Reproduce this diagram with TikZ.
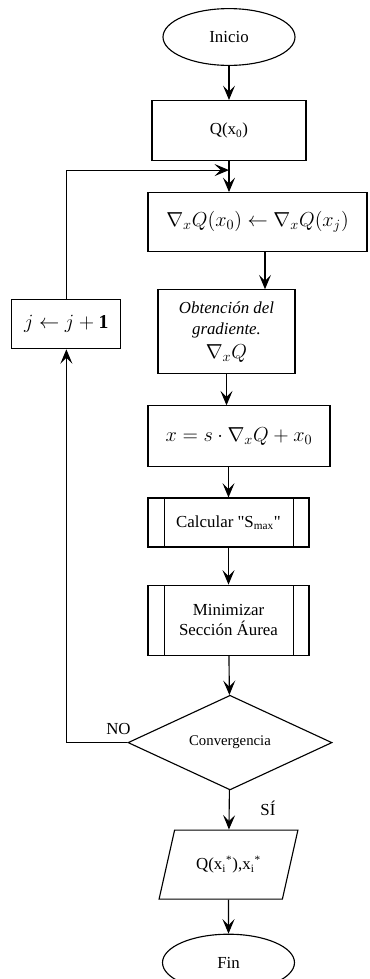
\documentclass[tikz,border=0pt]{standalone}
\usepackage{fontspec}
\setmainfont{Liberation Serif}[Ligatures=TeXOff]
\usepackage{amsmath}
\usetikzlibrary{shapes.geometric,arrows.meta,positioning}

\begin{document}
\begin{tikzpicture}[
    terminal/.style={ellipse, draw, line width=0.8pt, minimum width=3.3cm, minimum height=1.42cm, font=\fontsize{12}{14}\selectfont},
    block/.style={rectangle, draw, line width=0.8pt, align=center, minimum height=1.5cm, font=\fontsize{12}{14}\selectfont},
    mathblock/.style={block, font=\fontsize{14}{17}\selectfont},
    subproc/.style={block, path picture={\draw[line width=0.8pt] ([xshift=0.42cm]path picture bounding box.north west) -- ([xshift=0.42cm]path picture bounding box.south west) ([xshift=-0.38cm]path picture bounding box.north east) -- ([xshift=-0.38cm]path picture bounding box.south east);}},
    decision/.style={diamond, draw, line width=0.8pt, minimum width=5.1cm, minimum height=2.33cm, inner sep=0pt, font=\fontsize{10.5}{12}\selectfont},
    io/.style={trapezium, trapezium left angle=68, trapezium right angle=112, trapezium stretches=true, draw, line width=0.8pt, minimum width=3.475cm, minimum height=1.725cm, font=\fontsize{12}{14}\selectfont},
    arrow/.style={-{Stealth[length=3.6mm, width=3mm, inset=1.5mm]}, line width=0.8pt},
    tagtext/.style={font=\fontsize{12}{14}\selectfont}
]
\useasboundingbox (0,0) rectangle (9.225,-24.475);

\node[terminal] (inicio) at (5.725,-0.925) {Inicio};
\node[block, below=0.85cm of inicio, minimum width=3.85cm] (q) {Q(x\textsubscript{0})};
\node[mathblock, below=0.775cm of q, xshift=0.7125cm, minimum width=5.475cm, minimum height=1.475cm] (grad) {$\nabla_{x}Q(x_{0}) \leftarrow \nabla_{x}Q(x_{j})$};
\node[block, below=0.925cm of grad, xshift=-0.775cm, minimum width=3.425cm, minimum height=2.1cm, inner sep=1pt, font=\fontsize{12}{15.5}\selectfont] (obt) {\textit{Obtención del}\\\textit{gradiente.}\\[1pt]{\fontsize{14}{17}\selectfont$\nabla_{x}Q$}};
\node[mathblock, left=0.9cm of obt, yshift=0.1875cm, minimum width=2.725cm, minimum height=1.225cm] (jinc) {$j \leftarrow j+\mathbf{1}$};
\node[mathblock, below=0.775cm of obt, xshift=0.3125cm, minimum width=4.55cm, minimum height=1.525cm] (upd) {$x = s\cdot\nabla_{x}Q + x_{0}$};
\node[subproc, below=0.75cm of upd, xshift=-0.2625cm, minimum width=4.025cm, minimum height=1.225cm] (calc) {Calcular "S\textsubscript{max}"};
\node[subproc, below=0.925cm of calc, minimum width=4.025cm, minimum height=1.75cm] (minim) {Minimizar\\Sección Áurea};
\node[decision, below=0.975cm of minim, xshift=0.0375cm] (dec) {Convergencia};
\node[io, below=0.975cm of dec, xshift=-0.0375cm] (res) {Q(x\textsubscript{i}\textsuperscript{*}),x\textsubscript{i}\textsuperscript{*}};
\node[terminal, below=0.85cm of res] (fin) {Fin};

\coordinate[below=0.225cm of q] (join);

\draw[arrow] (inicio) -- (q);
\draw[arrow] (q) -- (q |- grad.north);
\draw[arrow] (jinc) |- (join);
\draw[arrow] ([xshift=0.1875cm]grad.south) -- ([xshift=0.1875cm]grad.south |- obt.north);
\draw[arrow] (obt) -- (obt |- upd.north);
\draw[arrow] (upd.south -| calc) -- (calc);
\draw[arrow] (calc) -- (minim);
\draw[arrow] (minim) -- (dec);
\draw[arrow] (dec) -- node[pos=0.45, right, xshift=0.65cm, tagtext] {SÍ} (res);
\draw[arrow] (res) -- (fin);
\draw[arrow] (dec.west) -| node[pos=0, anchor=south east, xshift=6pt, yshift=2pt, tagtext] {NO} (jinc);
\end{tikzpicture}
\end{document}
